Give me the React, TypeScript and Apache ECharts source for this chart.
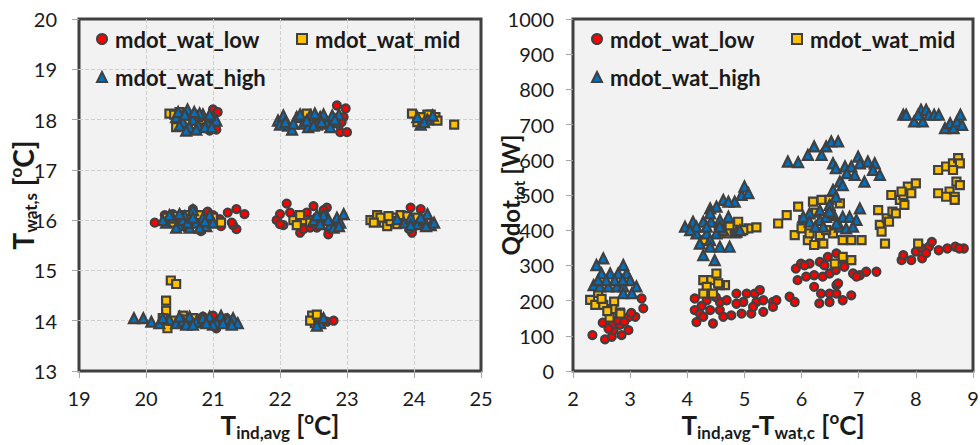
import React, { useEffect, useRef } from "react";
import * as echarts from "echarts";

// ---- Left chart: T_wat,s vs T_ind,avg ----
const leftLow: number[][] = [
  [21.0, 18.2], [21.07, 18.15], [21.05, 17.8], [20.95, 17.78], [20.75, 18.1], [20.6, 18.05],
  [20.5, 18.0], [20.85, 17.9],
  [22.85, 18.28], [22.98, 18.22], [22.9, 17.75], [23.0, 17.75], [22.95, 18.05], [22.88, 17.9], [22.92, 17.95],
  [20.13, 15.95], [20.28, 16.1], [20.35, 15.95], [20.55, 16.05], [20.7, 16.22], [20.82, 15.78],
  [20.92, 16.17], [21.1, 16.02], [21.12, 15.88], [21.22, 16.15], [21.35, 16.22], [21.47, 16.12],
  [21.35, 15.82], [21.3, 15.9], [21.28, 15.95], [20.4, 16.12], [20.6, 15.85], [21.0, 16.1],
  [21.95, 16.0], [22.0, 16.12], [22.05, 15.9], [22.1, 16.33], [22.15, 16.15], [22.3, 15.75],
  [22.35, 15.82], [22.5, 16.28], [22.45, 15.85], [22.7, 16.25], [22.72, 15.72], [22.6, 15.95], [22.8, 15.9],
  [22.25, 16.05], [22.4, 16.15], [22.55, 15.85], [22.65, 16.2], [22.0, 15.92],
  [23.95, 16.25], [24.1, 16.22], [23.97, 15.75], [23.93, 15.82], [24.05, 16.0], [24.02, 15.9],
  [20.8, 13.95], [20.95, 14.0], [21.05, 13.85], [21.2, 14.05], [21.1, 14.0], [20.75, 14.05],
  [20.85, 14.08], [21.0, 14.1], [21.25, 13.95],
  [22.8, 14.0], [22.7, 13.98],
];
const leftMid: number[][] = [
  [20.35, 18.12], [20.42, 18.1], [20.5, 18.15], [20.55, 17.95], [20.45, 17.85], [20.6, 18.1],
  [20.7, 17.9], [20.85, 18.0], [20.62, 17.92], [20.78, 18.05], [20.95, 17.95],
  [22.3, 18.05], [22.4, 18.12], [22.5, 18.0],
  [23.97, 18.12], [24.05, 17.95], [24.32, 18.05], [24.35, 17.98], [24.25, 18.1], [24.6, 17.9], [24.15, 17.95],
  [24.2, 18.1], [24.1, 18.05],
  [20.3, 16.05], [20.4, 15.95], [20.45, 16.08], [20.65, 16.0], [20.9, 16.0], [21.0, 16.05], [21.12, 15.95],
  [20.6, 16.1], [20.8, 16.1],
  [22.2, 16.0], [22.35, 16.0], [22.5, 16.0], [22.6, 16.05], [22.25, 15.9], [22.3, 16.1], [22.45, 15.95],
  [23.35, 16.0], [23.45, 16.1], [23.55, 15.95], [23.6, 15.88], [23.72, 16.05], [23.8, 16.1], [23.5, 16.05],
  [24.05, 16.05], [23.65, 15.98], [23.4, 15.95], [23.62, 16.08], [23.75, 15.92], [23.9, 16.08],
  [20.3, 14.4], [20.3, 14.2], [20.32, 13.85], [20.37, 14.8], [20.45, 14.73], [20.25, 14.05], [20.55, 14.1],
  [20.7, 14.05], [20.4, 14.0], [20.5, 13.95], [20.6, 14.02],
  [22.48, 14.1], [22.52, 13.95], [22.58, 14.05], [22.45, 14.0], [22.55, 14.12],
];
const leftHigh: number[][] = [
  [20.45, 18.05], [20.55, 17.95], [20.62, 18.2], [20.7, 18.0], [20.78, 17.88], [20.85, 18.1],
  [20.92, 17.95], [21.0, 18.05], [20.5, 17.88], [20.65, 17.85], [20.8, 18.12], [21.05, 17.98],
  [20.48, 18.15], [20.58, 18.1], [20.72, 18.15], [20.88, 17.85], [20.95, 18.1], [20.6, 17.78],
  [20.75, 17.8], [20.98, 17.85],
  [21.97, 17.98], [22.05, 18.08], [22.12, 17.88], [22.18, 17.8], [22.25, 18.05], [22.35, 17.92],
  [22.45, 18.08], [22.55, 17.9], [22.6, 18.05], [22.7, 17.92], [22.78, 18.08], [22.85, 17.95],
  [22.0, 17.9], [22.42, 17.85], [22.65, 18.1], [22.08, 17.95], [22.3, 18.1], [22.4, 17.98],
  [22.5, 17.88], [22.62, 17.95], [22.75, 17.85], [22.88, 18.1], [22.2, 17.92], [22.52, 18.12], [22.82, 18.0],
  [24.1, 17.9], [24.2, 18.0], [24.28, 18.08], [24.15, 17.95], [24.05, 18.05],
  [20.3, 15.95], [20.4, 16.05], [20.5, 15.9], [20.58, 16.08], [20.65, 15.85], [20.7, 16.2],
  [20.75, 15.95], [20.85, 16.05], [20.9, 15.88], [20.45, 15.85], [20.55, 16.0], [20.95, 16.1],
  [20.35, 16.1], [20.62, 15.95], [20.8, 15.85], [20.7, 16.05], [20.25, 16.0], [20.88, 15.98],
  [20.5, 16.12], [21.0, 15.95],
  [22.5, 16.0], [22.6, 15.92], [22.7, 16.08], [22.75, 15.9], [22.85, 16.05], [22.9, 15.95],
  [22.95, 16.12], [22.65, 16.1], [22.8, 15.85], [22.55, 16.1], [22.72, 16.0], [22.88, 15.88],
  [23.85, 15.95], [23.95, 16.05], [24.05, 15.92], [24.15, 16.0], [24.2, 16.12], [24.25, 15.9],
  [24.3, 15.95], [23.75, 16.02], [23.95, 15.9], [24.1, 16.05], [24.18, 15.88],
  [19.82, 14.05], [19.96, 14.05], [20.08, 13.98], [20.2, 13.95], [20.35, 14.02], [20.45, 13.95],
  [20.55, 14.0], [20.65, 14.08], [20.75, 13.98], [20.85, 14.05], [20.95, 14.08], [21.05, 13.97],
  [21.12, 14.1], [21.22, 14.02], [21.3, 14.05], [21.37, 13.95], [20.6, 13.92], [21.0, 13.92],
  [20.25, 14.05], [20.5, 14.08], [20.7, 13.92], [20.9, 13.95], [21.15, 13.95], [21.28, 13.92],
  [22.6, 13.95], [22.65, 14.05], [22.55, 13.9],
];

// ---- Right chart: Qdot_tot vs T_ind,avg - T_wat,c ----
const rightLow: number[][] = [
  [2.34, 102], [2.56, 90], [2.68, 97], [2.85, 102], [2.71, 116], [2.97, 116], [2.52, 137], [2.68, 131],
  [2.82, 131], [2.78, 145], [3.09, 154], [2.97, 153], [3.2, 206], [3.23, 178], [2.62, 120], [2.9, 140], [3.02, 165],
  [4.16, 139], [4.45, 135], [4.13, 173], [4.22, 163], [4.4, 173], [4.57, 173], [4.13, 206], [4.34, 201],
  [4.57, 196], [4.69, 201], [4.86, 220], [5.04, 220], [5.18, 220], [5.27, 230], [4.98, 196], [5.21, 196],
  [5.33, 201], [5.5, 196], [5.56, 201], [5.5, 182], [5.33, 168], [5.12, 163], [4.95, 163], [4.77, 158],
  [4.63, 154], [4.28, 154], [4.86, 191], [5.15, 182], [4.25, 185], [4.5, 210],
  [5.79, 211], [5.88, 196], [5.9, 291], [5.99, 305], [6.14, 305], [6.32, 310], [6.46, 324], [6.61, 334],
  [6.72, 315], [6.87, 315], [5.93, 258], [6.08, 268], [6.22, 272], [6.37, 268], [6.49, 277], [6.6, 287],
  [6.75, 296], [6.9, 277], [7.02, 272], [7.13, 282], [7.31, 282], [6.96, 268], [6.22, 239], [6.34, 220],
  [6.49, 220], [6.61, 220], [6.72, 201], [6.87, 215], [6.61, 244], [6.31, 192], [6.49, 196], [6.64, 249],
  [6.05, 300], [6.4, 300],
  [7.75, 315], [7.78, 329], [7.92, 315], [8.0, 339], [8.11, 348], [8.11, 320], [8.23, 353], [8.28, 367],
  [8.4, 343], [8.55, 348], [8.69, 353], [8.84, 348], [8.76, 348], [8.18, 335],
];
const rightMid: number[][] = [
  [2.3, 202], [2.39, 188], [2.53, 188], [2.72, 197], [2.69, 176], [2.82, 166], [2.64, 152], [2.44, 222],
  [2.83, 163], [2.5, 205], [2.6, 170],
  [4.28, 372], [4.63, 405], [4.74, 410], [4.89, 424], [5.07, 405], [5.21, 408], [4.86, 391], [4.69, 391],
  [4.98, 400], [4.55, 400],
  [4.28, 258], [4.42, 258], [4.51, 277], [4.66, 244], [4.57, 244], [4.34, 239], [4.28, 220], [4.45, 220], [4.54, 249],
  [5.59, 419], [5.74, 443], [5.88, 386], [5.94, 467], [6.0, 405], [6.11, 372], [6.22, 358], [6.38, 362],
  [6.35, 486], [6.2, 481], [6.49, 486], [6.67, 476], [6.72, 372], [6.87, 372], [7.05, 372], [6.14, 391],
  [6.32, 386], [6.55, 391], [6.03, 429], [6.43, 400], [6.25, 450], [6.5, 440],
  [6.72, 324], [6.58, 305], [6.87, 315],
  [7.34, 457], [7.37, 415], [7.4, 396], [7.46, 362], [7.49, 434], [7.53, 424], [7.59, 453], [7.65, 448],
  [7.57, 500], [7.72, 486], [7.78, 500], [7.8, 472], [7.86, 524], [8.0, 533], [7.92, 505], [7.75, 510], [8.04, 362],
  [8.39, 571], [8.53, 581], [8.65, 590], [8.74, 605], [8.77, 590], [8.65, 571], [8.39, 505], [8.59, 510],
  [8.71, 538], [8.68, 495], [8.77, 528], [8.53, 495], [8.68, 486],
];
const rightHigh: number[][] = [
  [2.53, 320], [2.41, 301], [2.88, 301], [2.5, 277], [2.65, 277], [2.79, 277], [2.94, 277], [3.0, 258],
  [2.36, 244], [2.47, 240], [2.62, 240], [2.77, 240], [2.88, 240], [3.11, 240], [2.58, 258], [2.73, 258],
  [2.87, 258], [3.03, 221], [2.88, 221], [2.44, 258],
  [3.96, 410], [4.1, 424], [4.28, 424], [4.42, 424], [4.57, 429], [4.72, 438], [4.83, 481], [4.95, 500],
  [5.0, 524], [5.07, 505], [4.63, 486], [4.72, 481], [4.51, 467], [4.4, 462], [4.4, 448], [4.16, 391],
  [4.34, 391], [4.51, 391], [4.63, 400], [4.86, 396], [4.16, 410], [4.34, 410], [4.57, 410], [4.4, 372],
  [4.57, 353], [4.74, 353], [4.28, 329], [4.48, 315], [4.4, 353], [4.22, 362], [4.92, 400], [4.05, 400],
  [5.76, 595], [5.94, 593], [6.11, 614], [6.22, 638], [6.35, 614], [6.43, 638], [6.52, 652], [6.64, 652],
  [6.55, 590], [6.6, 576], [6.76, 581], [6.87, 581], [6.99, 609], [7.02, 590], [7.16, 595], [7.28, 590],
  [7.25, 571], [7.37, 557], [7.1, 538], [6.93, 557], [6.79, 562],
  [6.67, 538], [6.72, 528], [6.55, 514], [6.6, 495], [6.49, 472], [6.32, 457], [6.14, 448], [6.03, 438],
  [6.14, 424], [6.32, 429], [6.43, 438], [6.55, 448], [6.72, 438], [6.84, 438], [6.96, 429], [7.02, 462],
  [6.67, 410], [6.78, 405], [6.9, 410], [6.38, 410], [6.24, 410], [6.61, 419], [6.49, 453],
  [7.78, 728], [7.83, 728], [7.97, 709], [8.09, 742], [8.18, 742], [8.12, 709], [8.23, 728], [8.32, 728],
  [8.4, 728], [8.51, 690], [8.6, 704], [8.66, 690], [8.72, 709], [8.78, 728], [8.81, 699], [8.04, 728],
];

const seriesNames = ["mdot_wat_low", "mdot_wat_mid", "mdot_wat_high"];
const leftX = { min: 19, max: 25, interval: 1 };
const leftY = { min: 13, max: 20, interval: 1 };
const rightX = { min: 2, max: 9, interval: 1 };
const rightY = { min: 0, max: 1000, interval: 100 };

const FONT = "Lato, 'Open Sans', sans-serif";
const TXT = "#1a1a1a";
const BORDER = "#404040";
const colors = ["#ff0000", "#ffc000", "#0070c0"];
const symbols = ["circle", "rect", "triangle"];
const sizes = [8, 8, 10];

const richName = (base: number, sub: number) => ({
  b: { fontSize: base, fontWeight: "bold", fontFamily: FONT, color: TXT, lineHeight: 32 },
  s: { fontSize: sub, fontWeight: "bold", fontFamily: FONT, color: TXT, lineHeight: 8, verticalAlign: "bottom" },
  sup: { fontSize: sub, fontWeight: "bold", fontFamily: FONT, color: TXT, lineHeight: 14, verticalAlign: "top" },
});

export default function App() {
  const ref = useRef<HTMLDivElement>(null);
  useEffect(() => {
    if (!ref.current) return;
    const chart = echarts.init(ref.current, undefined, { renderer: "svg" });

    const axisLabel = (margin: number, lh?: number) => ({
      fontSize: 20,
      fontFamily: FONT,
      color: TXT,
      margin,
      lineHeight: lh,
      formatter: (v: number) => String(v),
    });
    const tick = { show: true, length: 7, lineStyle: { color: "#a6a6a6", width: 1 } };

    const mkAxis = (cfg: any, gridIndex: number, label: any, split: boolean) => ({
      type: "value",
      gridIndex,
      min: cfg.min,
      max: cfg.max,
      interval: cfg.interval,
      nameMoveOverlap: false,
      axisLine: { show: false },
      axisTick: tick,
      axisLabel: label,
      splitLine: {
        show: split,
        showMinLine: false,
        showMaxLine: false,
        lineStyle: { color: "#d0d0d0", type: "dashed", width: 1 },
      },
    });

    const datasets = [
      [leftLow, leftMid, leftHigh],
      [rightLow, rightMid, rightHigh],
    ];
    const series: any[] = [];
    datasets.forEach((group, gi) => {
      group.forEach((d, si) => {
        series.push({
          type: "scatter",
          name: seriesNames[si],
          xAxisIndex: gi,
          yAxisIndex: gi,
          data: d,
          symbol: symbols[si],
          symbolSize: sizes[si],
          itemStyle: { color: colors[si], borderColor: BORDER, borderWidth: 2.2, opacity: 1 },
          emphasis: { disabled: true },
        });
      });
    });

    const legendAt = (name: string, icon: string, left: number, top: number) => ({
      show: true,
      data: [{ name, icon }],
      left,
      top,
      itemWidth: 10,
      itemHeight: 10,
      selectedMode: false,
      padding: 0,
      textStyle: { fontSize: 22, fontWeight: "bold", fontFamily: FONT, color: TXT, padding: [0, 0, 0, 3] },
    });

    const xAxes = [
      mkAxis(leftX, 0, axisLabel(19, 16), true),
      mkAxis(rightX, 1, axisLabel(19, 16), false),
    ];
    const yAxes = [
      mkAxis(leftY, 0, axisLabel(22), true),
      mkAxis(rightY, 1, axisLabel(19), false),
    ];

    Object.assign(xAxes[0], {
      name: "{b|T}{s|ind,avg}{b| [}{sup|o}{b|C]}",
      nameLocation: "middle",
      nameGap: 38,
      nameTextStyle: { rich: richName(26, 17) },
    });
    Object.assign(xAxes[1], {
      name: "{b|T}{s|ind,avg}{b|-T}{s|wat,c}{b| [}{sup|o}{b|C]}",
      nameLocation: "middle",
      nameGap: 38,
      nameTextStyle: { rich: richName(26, 17) },
    });
    Object.assign(yAxes[0], {
      name: "{b|T}{s|wat,s}{b| [}{sup|o}{b|C]}",
      nameLocation: "middle",
      nameGap: 40,
      nameTextStyle: { rich: richName(28, 17) },
    });
    Object.assign(yAxes[1], {
      name: "{b|Qdot}{s|tot}{b| [W]}",
      nameLocation: "middle",
      nameGap: 47,
      nameTextStyle: { rich: richName(24, 15) },
    });

    const gridBase = {
      show: true,
      backgroundColor: "#f2f2f2",
      borderColor: BORDER,
      borderWidth: 3,
      outerBoundsMode: "none",
      containLabel: false,
    };

    chart.setOption({
      animation: false,
      backgroundColor: "#ffffff",
      textStyle: { fontFamily: FONT },
      grid: [
        { ...gridBase, left: 79, top: 19, width: 402, height: 352 },
        { ...gridBase, left: 573, top: 19, width: 400, height: 352 },
      ],
      legend: [
        legendAt(seriesNames[0], "circle", 96, 28),
        legendAt(seriesNames[1], "rect", 296, 28),
        legendAt(seriesNames[2], "triangle", 96, 66),
        legendAt(seriesNames[0], "circle", 591, 28),
        legendAt(seriesNames[1], "rect", 791, 28),
        legendAt(seriesNames[2], "triangle", 591, 66),
      ],
      xAxis: xAxes,
      yAxis: yAxes,
      series,
    });
    return () => chart.dispose();
  }, []);
  return <div ref={ref} style={{ position: "fixed", left: 0, top: 0, width: 980, height: 445 }} />;
}
